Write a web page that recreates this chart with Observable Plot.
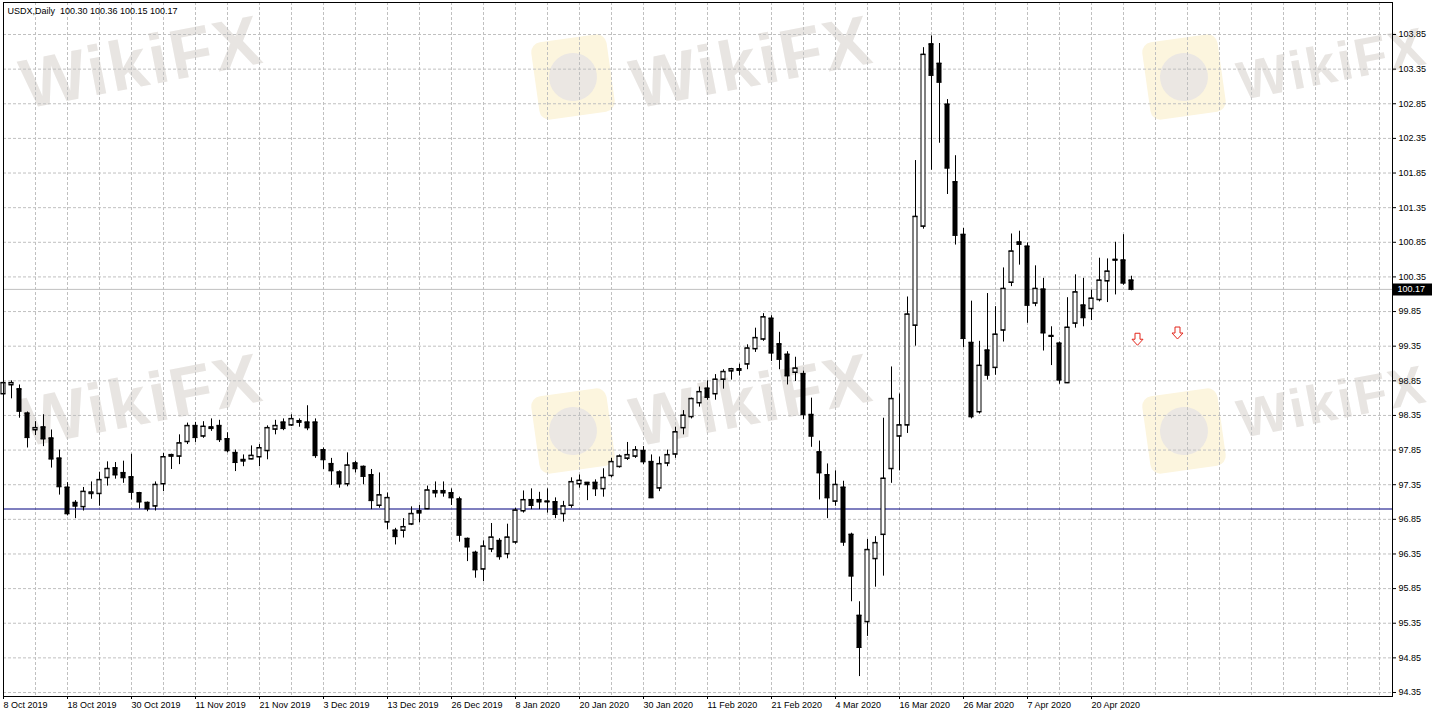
<!DOCTYPE html>
<html><head><meta charset="utf-8">
<script src="https://cdn.jsdelivr.net/npm/d3@7"></script>
<script src="https://cdn.jsdelivr.net/npm/@observablehq/plot@0.6"></script>
<style>
html,body{margin:0;padding:0;background:#fff;}
#wrap{position:relative;width:1432px;height:717px;overflow:hidden;background:#fff;}
.wm{position:absolute;font-family:"Liberation Sans",Arial,sans-serif;font-weight:bold;font-size:70px;color:#e8e5e2;transform:rotate(-11deg);white-space:nowrap;line-height:1;letter-spacing:2px;}
.wm.small{font-size:54px;}
.logo{position:absolute;width:76px;height:78px;border-radius:10px;background:#fcf5de;transform:rotate(-8deg);}
.logo::after{content:"";position:absolute;left:14px;top:15px;width:48px;height:48px;border-radius:50%;background:#ebe7e3;}
#chart{position:absolute;left:0;top:0;z-index:1;}
</style></head>
<body><div id="wrap"></div>
<script>
// ---- data (bar index 0 = 8 Oct 2019, one bar per trading day) ----
const open  = [98.66,98.79,98.73,98.38,98.14,98.18,98.02,97.73,97.31,97.09,97.03,97.22,97.22,97.45,97.59,97.52,97.46,97.23,97.09,97.04,
               97.36,97.78,97.76,97.97,98.20,98.05,98.18,98.20,98.01,97.81,97.71,97.72,97.75,97.84,98.15,98.25,98.21,98.27,98.25,98.25,
               97.85,97.65,97.53,97.36,97.66,97.61,97.49,97.05,96.81,96.69,96.69,96.78,96.97,97.00,97.26,97.26,97.23,97.14,96.57,96.37,
               96.13,96.42,96.54,96.35,96.52,96.97,97.13,97.13,97.10,97.10,96.93,97.05,97.36,97.38,97.38,97.29,97.48,97.61,97.73,97.76,
               97.84,97.68,97.30,97.66,97.79,98.17,98.33,98.53,98.74,98.66,98.87,98.99,99.02,99.09,99.31,99.45,99.75,99.38,99.23,98.97,
               98.95,98.36,97.82,97.49,97.11,97.31,96.63,95.46,95.37,96.28,96.63,97.58,98.05,98.21,99.65,101.08,103.71,103.43,102.84,101.72,
               100.96,99.40,98.40,99.29,99.04,99.58,100.27,100.85,100.79,99.97,100.17,99.50,99.39,98.82,99.68,99.94,99.89,100.02,100.29,100.59,
               100.59,100.30];
const high  = [98.96,98.85,98.79,98.40,98.26,98.36,98.14,97.85,97.38,97.12,97.31,97.39,97.53,97.68,97.67,97.69,97.79,97.24,97.10,97.39,
               97.80,97.79,98.07,98.24,98.25,98.26,98.30,98.28,98.10,97.85,97.78,97.91,97.93,98.20,98.28,98.30,98.36,98.30,98.49,98.30,
               97.88,97.73,97.55,97.81,97.69,97.62,97.57,97.52,97.23,96.72,96.86,97.03,97.05,97.33,97.39,97.39,97.29,97.17,96.58,96.39,
               96.54,96.79,96.57,96.78,97.01,97.26,97.29,97.24,97.29,97.16,97.11,97.45,97.49,97.38,97.42,97.58,97.73,97.78,97.96,97.90,
               97.90,97.78,97.75,97.85,98.18,98.42,98.60,98.76,98.85,98.94,99.01,99.03,99.09,99.37,99.61,99.82,99.79,99.55,99.27,99.19,
               98.99,98.60,97.98,97.65,97.55,97.40,96.65,95.66,96.56,96.60,98.31,99.05,98.66,100.06,102.03,103.66,103.83,103.72,102.91,102.10,
               101.05,100.00,99.42,100.11,99.92,100.48,100.97,101.01,100.84,100.51,100.33,99.63,99.41,100.05,100.38,100.33,100.16,100.62,100.61,100.85,
               100.96,100.36];
const low   = [98.53,98.59,98.31,97.88,98.06,97.90,97.59,97.20,96.90,96.86,96.97,97.14,97.04,97.33,97.43,97.37,97.13,97.00,96.96,96.97,
               97.25,97.57,97.64,97.93,97.96,98.02,98.12,97.96,97.81,97.54,97.61,97.71,97.61,97.71,98.07,98.13,98.19,98.18,98.13,97.73,
               97.57,97.34,97.30,97.32,97.52,97.35,96.99,97.01,96.70,96.48,96.58,96.76,96.80,96.99,97.16,97.17,97.05,96.52,96.24,96.00,
               95.95,96.37,96.26,96.28,96.49,96.94,96.99,96.99,96.94,96.86,96.81,97.01,97.30,97.12,97.18,97.17,97.45,97.59,97.70,97.73,
               97.64,97.15,97.25,97.61,97.73,98.07,98.30,98.47,98.57,98.57,98.73,98.86,98.92,99.01,99.26,99.42,99.13,99.01,98.79,98.84,
               98.29,97.89,97.13,96.86,97.04,96.46,95.66,94.58,95.16,95.87,96.03,97.37,97.55,98.09,99.35,101.04,101.89,102.28,101.54,100.81,
               99.33,98.30,98.37,98.86,98.93,99.41,100.21,100.52,99.68,99.92,99.28,99.07,98.80,98.81,99.61,99.63,99.72,99.99,99.98,100.09,
               100.23,100.15];
const close = [98.82,98.82,98.41,98.03,98.17,98.01,97.72,97.32,96.93,97.04,97.25,97.24,97.42,97.58,97.49,97.45,97.24,97.10,97.00,97.35,
               97.75,97.76,97.95,98.20,98.03,98.19,98.16,98.00,97.84,97.67,97.69,97.77,97.88,98.17,98.20,98.16,98.30,98.25,98.17,97.77,
               97.71,97.55,97.36,97.63,97.58,97.47,97.12,97.20,97.16,96.60,96.74,96.93,96.94,97.27,97.23,97.23,97.16,96.62,96.45,96.12,
               96.46,96.59,96.31,96.59,96.98,97.13,97.05,97.10,97.11,96.92,97.04,97.39,97.41,97.35,97.29,97.45,97.68,97.76,97.78,97.85,
               97.68,97.16,97.65,97.78,98.11,98.35,98.59,98.69,98.61,98.87,98.98,99.02,99.00,99.32,99.47,99.77,99.25,99.16,98.92,99.03,
               98.36,98.05,97.52,97.16,97.35,96.52,96.03,95.00,96.41,96.51,97.44,98.59,98.21,99.81,101.22,103.56,103.26,103.16,101.92,100.95,
               99.46,98.33,99.07,98.93,99.52,100.18,100.72,100.82,99.94,100.18,99.54,99.49,98.86,99.62,100.13,99.76,100.04,100.30,100.43,100.60,
               100.26,100.17];
const dateLabels = ["8 Oct 2019","18 Oct 2019","30 Oct 2019","11 Nov 2019","21 Nov 2019","3 Dec 2019","13 Dec 2019","26 Dec 2019",
                    "8 Jan 2020","20 Jan 2020","30 Jan 2020","11 Feb 2020","21 Feb 2020","4 Mar 2020","16 Mar 2020","26 Mar 2020",
                    "7 Apr 2020","20 Apr 2020"];
const dateLabelBars = [0,8,16,24,32,40,48,56,64,72,80,88,96,104,112,120,128,136];
const priceTicks = [94.35,94.85,95.35,95.85,96.35,96.85,97.35,97.85,98.35,98.85,99.35,99.85,100.35,100.85,101.35,101.85,102.35,102.85,103.35,103.85];
const levelLine = [97.00];
const arrowBars = [141.75, 146.75];
const arrowPrices = [99.45, 99.54];
const symbolName = "USDX,Daily";

// ---- build ----
const candles = open.map((o, i) => ({i, o, h: high[i], l: low[i], c: close[i]}));
const upCandles = candles.filter(d => d.c >= d.o);
const downCandles = candles.filter(d => d.c < d.o);
const last = candles[candles.length - 1];
const lastClose = [last.c];
const arrows = arrowBars.map((b, k) => ({b, p: arrowPrices[k]}));
const header = symbolName + "\u00a0\u00a0" + [last.o, last.h, last.l, last.c].map(v => v.toFixed(2)).join(" ");
const xMax = 173.625;
const xGrid = d3.range(4, xMax, 4);

// hollow "sell" arrow symbol (MT4 style)
const downArrow = {
  draw(ctx, size) {
    const k = Math.sqrt(size / Math.PI) / 5.5;
    ctx.moveTo(-2.5 * k, -6 * k);
    ctx.lineTo(2.5 * k, -6 * k);
    ctx.lineTo(2.5 * k, 0);
    ctx.lineTo(5.5 * k, 0);
    ctx.lineTo(0, 6 * k);
    ctx.lineTo(-5.5 * k, 0);
    ctx.lineTo(-2.5 * k, 0);
    ctx.closePath();
  }
};

const plot = Plot.plot({
  width: 1432, height: 717,
  marginLeft: 3, marginRight: 40, marginTop: 2, marginBottom: 21,
  style: {background: "transparent", fontFamily: "'Liberation Sans', Arial, sans-serif", fontSize: "9px", color: "black"},
  x: {type: "linear", domain: [0, xMax], label: null},
  y: {type: "linear", domain: [94.2922, 104.312], label: null},
  marks: [
    Plot.gridY(priceTicks, {stroke: "#c0c0c0", strokeOpacity: 1, strokeDasharray: "3,2"}),
    Plot.gridX(xGrid, {stroke: "#c0c0c0", strokeOpacity: 1, strokeDasharray: "3,2"}),
    Plot.ruleY(levelLine, {stroke: "#000080", strokeWidth: 1.1}),
    Plot.ruleY(lastClose, {stroke: "#c0c0c0", strokeWidth: 1}),
    Plot.ruleX(candles, {x: "i", y1: "l", y2: "h", stroke: "black"}),
    Plot.rect(upCandles, {x1: d => d.i - 0.25, x2: d => d.i + 0.25, y1: "o", y2: "c", fill: "white", stroke: "black"}),
    Plot.rect(downCandles, {x1: d => d.i - 0.25, x2: d => d.i + 0.25, y1: "o", y2: "c", fill: "black", stroke: "black"}),
    Plot.ruleY(candles, {y: "c", x1: d => d.i - 0.3125, x2: d => d.i + 0.3125, stroke: "black"}),
    Plot.ruleY(candles, {y: "o", x1: d => d.i - 0.3125, x2: d => d.i + 0.3125, stroke: "black"}),
    Plot.dot(arrows, {x: "b", y: "p", symbol: downArrow, r: 5.5, fill: "white", stroke: "#e3261b", strokeWidth: 1}),
    Plot.frame({stroke: "black"}),
    Plot.axisY(priceTicks, {anchor: "right", tickSize: 3, tickPadding: 3, tickFormat: d => d.toFixed(2), textAnchor: "start"}),
    Plot.axisX(dateLabelBars, {anchor: "bottom", tickSize: 3, tickPadding: 2, textAnchor: "start",
      tickFormat: d => dateLabels[dateLabelBars.indexOf(d)]}),
    Plot.ruleY(lastClose, {x1: xMax, x2: xMax + 5.1, stroke: "black", strokeWidth: 12}),
    Plot.text(lastClose, {x: xMax, y: d => d, text: d => d.toFixed(2), dx: 5, textAnchor: "start", fill: "white"}),
    Plot.text([header], {frameAnchor: "top-left", dx: 4, dy: 5, lineAnchor: "top", textAnchor: "start", fill: "black"})
  ]
});
plot.id = "chart";

const wrap = document.getElementById("wrap");
// watermark tiles
const wmText = [[19,27,""],[629,27,""],[1236,36,"small"],[19,365,""],[629,365,""],[1236,374,"small"]];
const wmLogo = [[535,38],[1146,38],[535,392],[1146,392]];
for (const [l, t] of wmLogo) {
  const d = document.createElement("div"); d.className = "logo"; d.style.left = l + "px"; d.style.top = t + "px"; wrap.appendChild(d);
}
for (const [l, t, cls] of wmText) {
  const d = document.createElement("div"); d.className = "wm " + cls; d.textContent = "WikiFX"; d.style.left = l + "px"; d.style.top = t + "px"; wrap.appendChild(d);
}
wrap.appendChild(plot);
</script>
</body></html>
